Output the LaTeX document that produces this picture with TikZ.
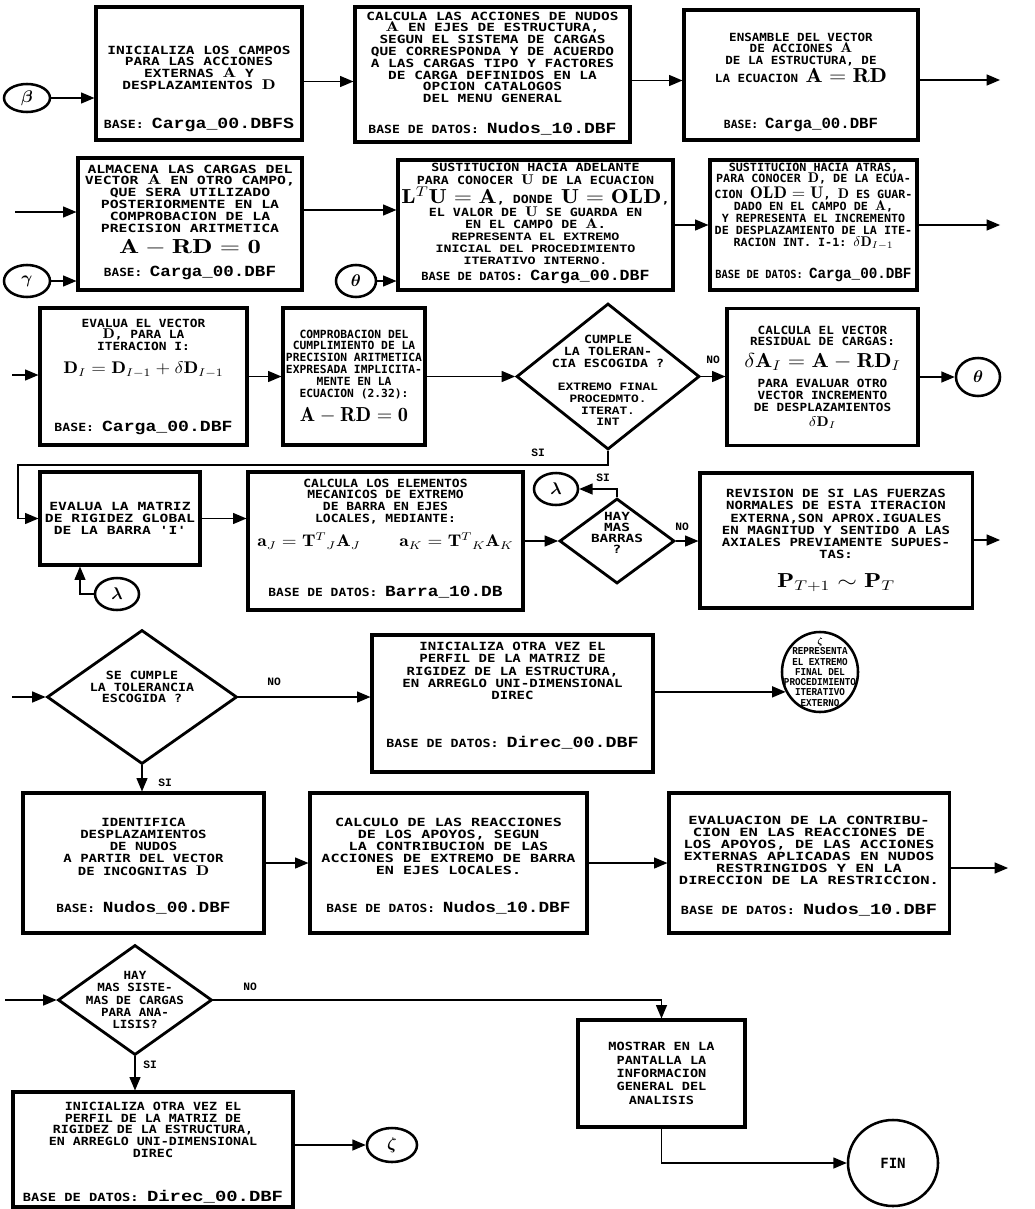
\documentclass[tikz,border=0pt]{standalone}
\usepackage{amsmath,amssymb}
\usepackage{graphicx}
\usepackage{fontspec}
\setmonofont{DejaVu Sans Mono}
\newfontfamily\otrafam{Liberation Mono}
\usetikzlibrary{arrows,shapes.geometric,positioning}

% bloque de lineas centradas, ancho fijo, interlineado libre
\newcommand\bloque[2]{\resizebox{#1}{\height}{\vbox{\lineskiplimit=-\maxdimen\def\\{\cr}\halign{\hfil##\hfil\cr#2\crcr}}}}
\newcommand\hueco[1]{\noalign{\vskip#1}}
\newcommand\dbf[1]{{\otrafam\bfseries\fontsize{11}{11}\selectfont #1}}
\newcommand\otf[1]{{\otrafam\bfseries\fontsize{8}{8}\selectfont #1}}
\newcommand\vb[1]{{\normalsize$\mathbf{#1}$}}

\tikzset{
  caja/.style={draw, line width=2.2pt, inner sep=2pt},
  txt/.style={inner sep=0pt, font=\fontsize{8}{#1}\selectfont\ttfamily\bfseries},
  txt/.default=8.4,
  txtb/.style={inner sep=0pt, font=\otrafam\bfseries\fontsize{8}{#1}\selectfont},
  txtb/.default=8.3,
  rombo/.style={draw, diamond, line width=2pt, inner sep=0pt},
  conector/.style={draw, ellipse, line width=1.8pt, inner sep=0pt},
  flecha/.style={-triangle 45, line width=1.2pt},
  etq/.style={font=\otrafam\bfseries\fontsize{8}{8}\selectfont}
}

\begin{document}
\begin{tikzpicture}[x=0.025cm,y=-0.025cm]
	\useasboundingbox (0,0) rectangle (1034,1209);
	% fila 1
	\node[conector, minimum width=1.15cm, minimum height=0.7cm] (beta) at (27,98) {\large$\boldsymbol{\beta}$};
	\node[caja, minimum width=5.15cm, minimum height=3.325cm] (b1) at (199,73.5) {};
	\node[txt, below=1cm of b1.north] (b1t) {\bloque{4.575cm}{INICIALIZA LOS CAMPOS\\PARA LAS ACCIONES\\EXTERNAS \vb{A} Y\\DESPLAZAMIENTOS \vb{D}}};
	\node[txt, above=0.25cm of b1.south] (b1d) {\bloque{4.75cm}{BASE: \dbf{Carga\_00.DBFS}}};
	\node[caja, minimum width=6.875cm, minimum height=3.375cm] (b2) at (492.5,74.5) {};
	\node[txt, below=0.15cm of b2.north] (b2t) {\bloque{6.3cm}{CALCULA LAS ACCIONES DE NUDOS\\\vb{A} EN EJES DE ESTRUCTURA,\\SEGUN EL SISTEMA DE CARGAS\\QUE CORRESPONDA Y DE ACUERDO\\A LAS CARGAS TIPO Y FACTORES\\DE CARGA DEFINIDOS EN LA\\OPCION CATALOGOS\\DEL MENU GENERAL}};
	\node[txt, above=0.2cm of b2.south] (b2d) {\bloque{6.2cm}{BASE DE DATOS: \dbf{Nudos\_10.DBF}}};
	\node[caja, minimum width=5.85cm, minimum height=3.25cm] (b3) at (801,75) {};
	\node[txt, below=0.6cm of b3.north] (b3t) {\bloque{4.3cm}{ENSAMBLE DEL VECTOR\\DE ACCIONES \vb{A}\\DE LA ESTRUCTURA, DE\\\hueco{4pt}LA ECUACION {\Large$\mathbf{A=RD}$}}};
	\node[txt, above=0.25cm of b3.south] (b3d) {\bloque{3.85cm}{BASE: \dbf{Carga\_00.DBF}}};
	% fila 2
	\node[conector, minimum width=1.15cm, minimum height=0.8cm] (gamma) at (27,281) {\large$\boldsymbol{\gamma}$};
	\node[caja, minimum width=5.6cm, minimum height=3.3cm] (b4) at (190,224) {};
	\node[txt, below=0.2cm of b4.north] (b4t) {\bloque{5.25cm}{ALMACENA LAS CARGAS DEL\\VECTOR \vb{A} EN OTRO CAMPO,\\QUE SERA UTILIZADO\\POSTERIORMENTE EN LA\\COMPROBACION DE LA\\PRECISION ARITMETICA\\\hueco{7pt}{\Large$\mathbf{A-RD=0}$}}};
	\node[txt, above=0.28cm of b4.south] (b4d) {\bloque{4.3cm}{BASE: \dbf{Carga\_00.DBF}}};
	\node[conector, minimum width=1cm, minimum height=0.8cm] (theta1) at (356,281) {\large$\boldsymbol{\theta}$};
	\node[caja, minimum width=6.875cm, minimum height=3.25cm] (b5) at (535.5,225) {};
	\node[txt=8.5, below=0.1cm of b5.north] (b5t) {\bloque{6.7cm}{SUSTITUCION HACIA ADELANTE\\\hueco{1pt}PARA CONOCER \vb{U} DE LA ECUACION\\\hueco{5pt}{\Large$\mathbf{L}^{T}\mathbf{U}=\mathbf{A}$}, DONDE {\Large$\mathbf{U=OLD}$},\\\hueco{1pt}EL VALOR DE \vb{U} SE GUARDA EN\\EN EL CAMPO DE \vb{A}.\\\otf{REPRESENTA EL EXTREMO}\\\otf{INICIAL DEL PROCEDIMIENTO}\\\otf{ITERATIVO INTERNO.}}};
	\node[txt, above=0.18cm of b5.south] (b5d) {\bloque{5.7cm}{BASE DE DATOS: \dbf{Carga\_00.DBF}}};
	\node[caja, minimum width=5.175cm, minimum height=3.25cm] (b6) at (813.5,225) {};
	\node[txt, below=0.1cm of b6.north] (b6t) {\bloque{4.95cm}{SUSTITUCION HACIA ATRAS,\\PARA CONOCER \vb{D}, DE LA ECUA-\\\hueco{3pt}CION {\large$\mathbf{OLD=U}$}, \vb{D} ES GUAR-\\DADO EN EL CAMPO DE \vb{A},\\Y REPRESENTA EL INCREMENTO\\DE DESPLAZAMIENTO DE LA ITE-\\RACION INT. I-1: {\normalsize$\delta\mathbf{D}_{I-1}$}}};
	\node[txt, above=0.25cm of b6.south] (b6d) {\bloque{4.9cm}{BASE DE DATOS: \dbf{Carga\_00.DBF}}};
	% fila 3
	\node[caja, minimum width=5.175cm, minimum height=3.425cm] (b7) at (143.5,376.5) {};
	\node[txt, below=0.3cm of b7.north] (b7t) {\bloque{4cm}{EVALUA EL VECTOR\\\vb{D}, PARA LA\\ITERACION I:\\\hueco{8pt}{\large$\mathbf{D}_I=\mathbf{D}_{I-1}+\delta\mathbf{D}_{I-1}$}}};
	\node[txt, above=0.3cm of b7.south] (b7d) {\bloque{4.45cm}{BASE: \dbf{Carga\_00.DBF}}};
	\node[caja, txt, minimum width=3.55cm, minimum height=3.425cm] (b8) at (354,376.5) {\bloque{3.4cm}{COMPROBACION DEL\\CUMPLIMIENTO DE LA\\PRECISION ARITMETICA\\EXPRESADA IMPLICITA-\\MENTE EN LA\\ECUACION (2.32):\\\hueco{9pt}{\Large$\mathbf{A-RD=0}$}}};
	\node[rombo, minimum width=4.575cm, minimum height=3.65cm] (d1) at (608,376.5) {};
	\node[txt] (d1t) at ([yshift=0.62cm]d1.center) {\bloque{2.8cm}{CUMPLE\\LA TOLERAN-\\CIA ESCOGIDA ?}};
	\node[txtb] (d1e) at ([yshift=-0.7cm]d1.center) {\bloque{2.5cm}{EXTREMO FINAL\\PROCEDMTO.\\ITERAT.\\INT}};
	\node[caja, txt, minimum width=4.775cm, minimum height=3.425cm] (b9) at (822.5,377) {\bloque{3.9cm}{CALCULA EL VECTOR\\RESIDUAL DE CARGAS:\\\hueco{7pt}{\Large$\delta\mathbf{A}_I=\mathbf{A}-\mathbf{RD}_I$}\\\hueco{6pt}PARA EVALUAR OTRO\\VECTOR INCREMENTO\\DE DESPLAZAMIENTOS\\\hueco{2pt}{\normalsize$\delta\mathbf{D}_I$}}};
	\node[conector, minimum width=1.1cm, minimum height=0.95cm] (theta2) at (978,377) {\large$\boldsymbol{\theta}$};
	% fila 4
	\node[caja, txt, minimum width=4cm, minimum height=2.325cm] (b10) at (120,518.5) {\bloque{3.75cm}{EVALUA LA MATRIZ\\DE RIGIDEZ GLOBAL\\DE LA BARRA 'I'}};
	\node[conector, minimum width=1.1cm, minimum height=0.8cm] (lambda1) at (117,594) {\large$\boldsymbol{\lambda}$};
	\node[caja, minimum width=6.875cm, minimum height=3.45cm] (b11) at (385.5,541) {};
	\node[txt, below=0.2cm of b11.north] (b11t) {\bloque{6.4cm}{CALCULA LOS ELEMENTOS\\MECANICOS DE EXTREMO\\DE BARRA EN EJES\\LOCALES, MEDIANTE:\\\hueco{9pt}{\large$\mathbf{a}_J=\mathbf{T}^{T}{}_{J}\mathbf{A}_J\qquad\mathbf{a}_K=\mathbf{T}^{T}{}_{K}\mathbf{A}_K$}}};
	\node[txt, above=0.32cm of b11.south] (b11d) {\bloque{5.85cm}{BASE DE DATOS: \dbf{Barra\_10.DB}}};
	\node[rombo, minimum width=2.875cm, minimum height=2.125cm] (d2) at (617,541) {};
	\node[txt=7.9] (d2t) at ([yshift=0.2cm]d2.center) {\bloque{1.3cm}{HAY\\MAS\\BARRAS\\?}};
	\node[conector, minimum width=1.1cm, minimum height=0.8cm] (lambda2) at (556,489) {\large$\boldsymbol{\lambda}$};
	\node[caja, txt=8.6, minimum width=6.8cm, minimum height=3.375cm] (b12) at (836,540.5) {\bloque{5.7cm}{REVISION DE SI LAS FUERZAS\\NORMALES DE ESTA ITERACION\\EXTERNA,SON APROX.IGUALES\\EN MAGNITUD Y SENTIDO A LAS\\AXIALES PREVIAMENTE SUPUES-\\TAS:\\\hueco{12pt}{\Large$\mathbf{P}_{T+1}\sim\mathbf{P}_{T}$}}};
	% fila 5
	\node[rombo, minimum width=4.75cm, minimum height=3.35cm] (d3) at (142,697) {};
	\node[txt] (d3t) at ([yshift=0.25cm]d3.center) {\bloque{2.6cm}{SE CUMPLE\\LA TOLERANCIA\\ESCOGIDA ?}};
	\node[caja, minimum width=7.025cm, minimum height=3.425cm] (b14) at (512.5,703.5) {};
	\node[txt=8.6, below=0.22cm of b14.north] (b14t) {\bloque{5.5cm}{INICIALIZA OTRA VEZ EL\\PERFIL DE LA MATRIZ DE\\RIGIDEZ DE LA ESTRUCTURA,\\EN ARREGLO UNI-DIMENSIONAL\\DIREC}};
	\node[txt, above=0.6cm of b14.south] (b14d) {\bloque{6.3cm}{BASE DE DATOS: \dbf{Direc\_00.DBF}}};
	\node[conector, minimum width=1.9cm, minimum height=2cm] (zeta) at (820,672) {};
	\node[txtb=7.3, font=\otrafam\bfseries\fontsize{7.5}{7.3}\selectfont] (zetat) at (zeta.center) {\bloque{1.8cm}{$\boldsymbol{\zeta}$\\REPRESENTA\\EL EXTREMO\\FINAL DEL\\PROCEDIMIENTO\\ITERATIVO\\EXTERNO}};
	% fila 6
	\node[caja, minimum width=6.025cm, minimum height=3.5cm] (b15) at (143.5,863) {};
	\node[txt=8.7, below=0.65cm of b15.north] (b15t) {\bloque{4cm}{IDENTIFICA\\DESPLAZAMIENTOS\\DE NUDOS\\A PARTIR DEL VECTOR\\DE INCOGNITAS \vb{D}}};
	\node[txt, above=0.5cm of b15.south] (b15d) {\bloque{4.35cm}{BASE: \dbf{Nudos\_00.DBF}}};
	\node[caja, minimum width=6.925cm, minimum height=3.5cm] (b16) at (448.5,863) {};
	\node[txt=8.6, below=0.65cm of b16.north] (b16t) {\bloque{6.35cm}{CALCULO DE LAS REACCIONES\\DE LOS APOYOS, SEGUN\\LA CONTRIBUCION DE LAS\\ACCIONES DE EXTREMO DE BARRA\\EN EJES LOCALES.}};
	\node[txt, above=0.5cm of b16.south] (b16d) {\bloque{6.1cm}{BASE DE DATOS: \dbf{Nudos\_10.DBF}}};
	\node[caja, minimum width=7cm, minimum height=3.5cm] (b17) at (809,863) {};
	\node[txt=8.6, below=0.6cm of b17.north] (b17t) {\bloque{6.5cm}{EVALUACION DE LA CONTRIBU-\\CION EN LAS REACCIONES DE\\LOS APOYOS, DE LAS ACCIONES\\EXTERNAS APLICADAS EN NUDOS\\RESTRINGIDOS Y EN LA\\DIRECCION DE LA RESTRICCION.}};
	\node[txt, above=0.45cm of b17.south] (b17d) {\bloque{6.4cm}{BASE DE DATOS: \dbf{Nudos\_10.DBF}}};
	% fila 7
	\node[rombo, minimum width=3.85cm, minimum height=2.75cm] (d4) at (135,1000) {};
	\node[txt=8.6] (d4t) at (d4.center) {\bloque{2.45cm}{HAY\\MAS SISTE-\\MAS DE CARGAS\\PARA ANA-\\LISIS?}};
	\node[caja, txt=9.5, minimum width=4.175cm, minimum height=2.675cm] (b18) at (661.5,1073.5) {\bloque{2.65cm}{MOSTRAR EN LA\\PANTALLA LA\\INFORMACION\\GENERAL DEL\\ANALISIS}};
	\node[conector, txt, minimum width=2.25cm, minimum height=2.15cm] (fin) at (893,1163) {\fontsize{10}{10}\selectfont FIN};
	\node[caja, minimum width=7cm, minimum height=2.875cm] (b19) at (153,1149.5) {};
	\node[txt, below=0.28cm of b19.north] (b19t) {\bloque{5.2cm}{INICIALIZA OTRA VEZ EL\\PERFIL DE LA MATRIZ DE\\RIGIDEZ DE LA ESTRUCTURA,\\EN ARREGLO UNI-DIMENSIONAL\\DIREC}};
	\node[txt, above=0.12cm of b19.south] (b19d) {\bloque{6.5cm}{BASE DE DATOS: \dbf{Direc\_00.DBF}}};
	\node[conector, minimum width=1.25cm, minimum height=0.85cm] (zeta2) at (392,1145) {\large$\boldsymbol{\zeta}$};

	% extremos libres
	\coordinate (sal1) at (1000,80);
	\coordinate (ent2) at (15,212);
	\coordinate (sal2) at (1000,225);
	\coordinate (ent3) at (12,375);
	\coordinate (codo1) at (18,465);
	\coordinate (sal3) at (1000,540);
	\coordinate (ent5) at (12,697);
	\coordinate (sal6) at (1008,868);
	\coordinate (ent7) at (5,1000);

	\draw[flecha] (beta.east) -- (beta.east -| b1.west);
	\draw[flecha] ([yshift=-2mm]b1.east) -- ([yshift=-2mm]b1.east -| b2.west);
	\draw[flecha] ([yshift=-1.5mm]b2.east) -- ([yshift=-1.5mm]b2.east -| b3.west);
	\draw[flecha] (b3.east |- sal1) -- (sal1);
	\draw[flecha] (ent2) -- (ent2 -| b4.west);
	\draw[flecha] (gamma.east) -- (gamma.east -| b4.west);
	\draw[flecha] ([yshift=3.5mm]b4.east) -- ([yshift=3.5mm]b4.east -| b5.west);
	\draw[flecha] (theta1.east) -- (theta1.east -| b5.west);
	\draw[flecha] (b5.east) -- (b5.east -| b6.west);
	\draw[flecha] (b6.east |- sal2) -- (sal2);
	\draw[flecha] (ent3) -- (ent3 -| b7.west);
	\draw[flecha] (b7.east) -- (b7.east -| b8.west);
	\draw[flecha] (b8.east) -- (d1.west);
	\draw[flecha] (d1.east) -- (d1.east -| b9.west);
	\draw[flecha] (b9.east) -- (theta2.west);
	\draw[flecha] (d1.south) |- (codo1) |- (b10.west);
	\draw[flecha] (b10.east) -- (b10.east -| b11.west);
	\draw[flecha] (lambda1.west) -| ([xshift=-1cm]b10.south);
	\draw[flecha] (b11.east) -- (d2.west);
	\draw[flecha] (d2.north) |- (lambda2.east);
	\draw[flecha] (d2.east) -- (d2.east -| b12.west);
	\draw[flecha] (b12.east |- sal3) -- (sal3);
	\draw[flecha] (ent5) -- (d3.west);
	\draw[flecha] (d3.east) -- (d3.east -| b14.west);
	\draw[flecha] (b14.east |- zeta.210) -- (zeta.210);
	\draw[flecha] (d3.south) -- (d3.south |- b15.north);
	\draw[flecha] (b15.east) -- (b15.east -| b16.west);
	\draw[flecha] (b16.east) -- (b16.east -| b17.west);
	\draw[flecha] (b17.east |- sal6) -- (sal6);
	\draw[flecha] (ent7) -- (d4.west);
	\draw[flecha] (d4.east) -| (b18.north);
	\draw[flecha] (b18.south) |- (fin.west);
	\draw[flecha] (d4.south) -- (d4.south |- b19.north);
	\draw[flecha] (b19.east |- zeta2) -- (zeta2.west);

	\node[etq] (no1) at (713,360) {NO};
	\node[etq] (si1) at (538,453) {SI};
	\node[etq] (si2) at (603,478) {SI};
	\node[etq] (no2) at (682,527) {NO};
	\node[etq] (no3) at (274,682) {NO};
	\node[etq] (si3) at (165,783) {SI};
	\node[etq] (no4) at (250,987) {NO};
	\node[etq] (si4) at (150,1065) {SI};
\end{tikzpicture}
\end{document}
